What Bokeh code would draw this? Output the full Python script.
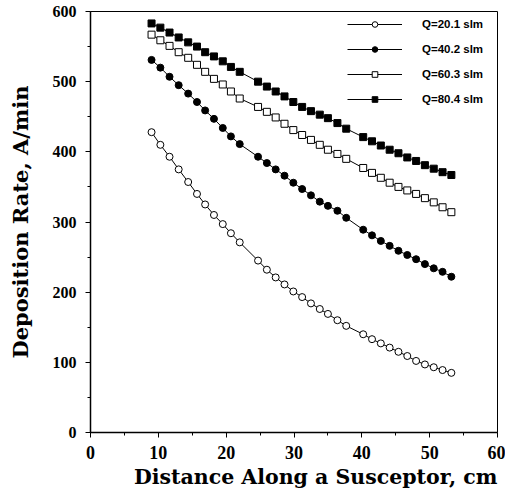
from bokeh.plotting import figure
from bokeh.models import Range1d, FixedTicker, Legend, LegendItem, Title
from bokeh.embed import file_html
from bokeh.resources import INLINE

# Distance along susceptor (cm) for the sampled points
distance = [9.0, 10.3, 11.65, 13.0, 14.4, 15.7, 16.9, 18.2, 19.5, 20.7, 22.0,
            24.7, 26.0, 27.3, 28.6, 29.9, 31.2, 32.5, 33.8, 35.0, 36.4, 37.7,
            40.2, 41.5, 42.8, 44.1, 45.4, 46.7, 48.0, 49.3, 50.6, 51.9, 53.2]

# Deposition rate (A/min)
q20_1 = [428, 410, 393, 375, 357, 340, 325, 310, 297, 284, 271,
         245, 232, 221, 211, 201, 193, 184, 176, 169, 160, 152,
         140, 133, 127, 121, 115, 109, 102, 97, 93, 89, 85]
q40_2 = [531, 520, 507, 495, 483, 471, 459, 447, 434, 422, 411,
         393, 384, 375, 366, 356, 347, 338, 329, 323, 316, 306,
         289, 281, 273, 266, 259, 253, 247, 240, 234, 229, 222]
q60_3 = [567, 559, 551, 542, 534, 524, 514, 504, 496, 486, 476,
         464, 457, 449, 440, 431, 424, 417, 410, 403, 397, 390,
         377, 370, 363, 356, 350, 345, 340, 334, 328, 321, 314]
q80_4 = [583, 577, 570, 563, 556, 550, 542, 536, 529, 521, 514,
         500, 493, 486, 479, 471, 464, 458, 453, 448, 441, 433,
         421, 415, 409, 403, 398, 392, 387, 381, 376, 371, 367]

series_labels = ["Q=20.1 slm", "Q=40.2 slm", "Q=60.3 slm", "Q=80.4 slm"]
x_ticks = [0, 10, 20, 30, 40, 50, 60]
y_ticks = [0, 100, 200, 300, 400, 500, 600]
x_title = "Distance Along a Susceptor, cm"
y_title = "Deposition Rate, A/min"

p = figure(width=505, height=499, output_backend="svg", toolbar_location=None,
           x_range=Range1d(0, 60), y_range=Range1d(0, 600),
           min_border_left=90, min_border_right=8, min_border_top=11,
           min_border_bottom=67)
p.grid.visible = False
p.outline_line_color = "black"
p.outline_line_width = 1
p.background_fill_color = "white"
p.border_fill_color = "white"

styles = [
    ("circle", "white"),
    ("circle", "black"),
    ("square", "white"),
    ("square", "black"),
]
items = []
for ys, label, (mk, fc) in zip([q20_1, q40_2, q60_3, q80_4], series_labels, styles):
    ln = p.line(distance, ys, line_color="black", line_width=1)
    sc = p.scatter(distance, ys, marker=mk, size=7,
                   fill_color=fc, line_color="black", line_width=1)
    items.append(LegendItem(label=label, renderers=[ln, sc]))

legend = Legend(items=items, location=(257, 326), margin=0, padding=0,
                glyph_width=55, glyph_height=14, label_height=14,
                label_standoff=20, spacing=11,
                label_text_font="Liberation Sans", label_text_font_style="bold",
                label_text_font_size="11.5px", label_text_color="black",
                border_line_color=None, background_fill_alpha=0)
p.add_layout(legend)

for ax in (p.xaxis[0], p.yaxis[0]):
    ax.axis_line_color = "black"
    ax.axis_line_width = 1.5
    ax.major_tick_line_color = "black"
    ax.minor_tick_line_color = "black"
    ax.major_tick_out = 5
    ax.major_tick_in = 0
    ax.minor_tick_out = 3
    ax.minor_tick_in = 0
    ax.major_label_text_font = "Liberation Serif"
    ax.major_label_text_font_style = "bold"
    ax.major_label_text_color = "black"

p.xaxis.ticker = FixedTicker(ticks=x_ticks, minor_ticks=[5, 15, 25, 35, 45, 55])
p.yaxis.ticker = FixedTicker(ticks=y_ticks, minor_ticks=[50, 150, 250, 350, 450, 550])
p.xaxis.major_label_text_font_size = "18px"
p.yaxis.major_label_text_font_size = "16px"
p.xaxis.major_label_standoff = 8
p.yaxis.major_label_standoff = 9

p.yaxis.axis_label = y_title
p.yaxis.axis_label_text_font = "DejaVu Serif"
p.yaxis.axis_label_text_font_style = "bold"
p.yaxis.axis_label_text_font_size = "21px"
p.yaxis.axis_label_text_color = "black"
p.yaxis.axis_label_standoff = 17

xt = Title(text=x_title, align="right", text_font="DejaVu Serif",
           text_font_style="bold", text_font_size="20.5px", text_color="black",
           standoff=2)
p.add_layout(xt, "below")

open("out.html", "w").write(file_html(p, INLINE))
